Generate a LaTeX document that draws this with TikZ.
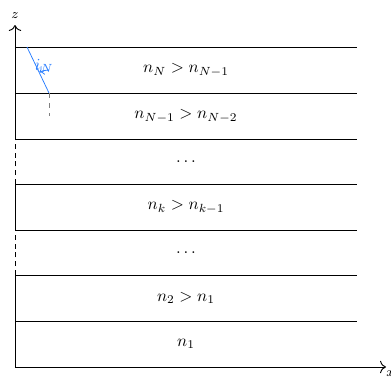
\documentclass[tikz,border=0pt]{standalone}
\usetikzlibrary{calc,arrows.meta}
\definecolor{raycol}{RGB}{40,125,255}
\begin{document}
\begin{tikzpicture}[x=0.5917pt,y=-0.5917pt,
  layerline/.style={line width=0.55pt},
  axisline/.style={line width=0.55pt},
  axistip/.style={axisline,-{To[scale=1.25]}},
  axisdash/.style={line width=0.55pt,dash pattern=on 3pt off 2.2pt},
  ray/.style={raycol,line width=0.45pt},
  normal/.style={gray,dashed,line width=0.45pt},
  lbl/.style={inner sep=0pt}]
\useasboundingbox (0,0) rectangle (391,377);
% axes points
\coordinate (O) at (15,367);
\coordinate (A1) at (15,275);
\coordinate (A2) at (15,230);
\coordinate (A3) at (15,184);
\coordinate (A4) at (15,139);
\coordinate (ztop) at (15,25);
\coordinate (xend) at (386,367);
% axes
\draw[axisline] (O) -- (A1);
\draw[axisdash] (A1) -- (A2);
\draw[axisline] (A2) -- (A3);
\draw[axisdash] (A3) -- (A4);
\draw[axistip] (A4) -- (ztop);
\draw[axistip] (O) -- (xend);
\node[lbl,font=\footnotesize] (zl) at (15,16) {$z$};
\node[lbl,font=\footnotesize,anchor=north west] (xl) at (386,370) {$x$};
% layer lines
\foreach \y [count=\i] in {47,93,139,184,230,275,321}{
  \coordinate (L\i) at (15,\y);
  \coordinate (R\i) at (357,\y);
  \draw[layerline] (L\i) -- (R\i);
}
% labels
\node[lbl] (t1) at (186,70) {$n_N > n_{N-1}$};
\node[lbl] (t2) at (186,116) {$n_{N-1} > n_{N-2}$};
\node[lbl] (t3) at (186,162) {$\dots$};
\node[lbl] (t4) at (186,207) {$n_k > n_{k-1}$};
\node[lbl] (t5) at (186,253) {$\dots$};
\node[lbl] (t6) at (186,298) {$n_2 > n_1$};
\node[lbl] (t7) at (186,344) {$n_1$};
% ray
\coordinate (P) at (27,47);
\coordinate (Q) at (49,93);
\coordinate (Qn) at (49,116);
\draw[ray] (P) -- (Q);
\draw[normal] (Q) -- (Qn);
\draw[ray,->] ($(Q)+(90:13.6pt)$) arc[start angle=90,end angle=115,radius=13.6pt];
\node[lbl,raycol] (iN) at (44,66) {$i_N$};
\end{tikzpicture}
\end{document}
